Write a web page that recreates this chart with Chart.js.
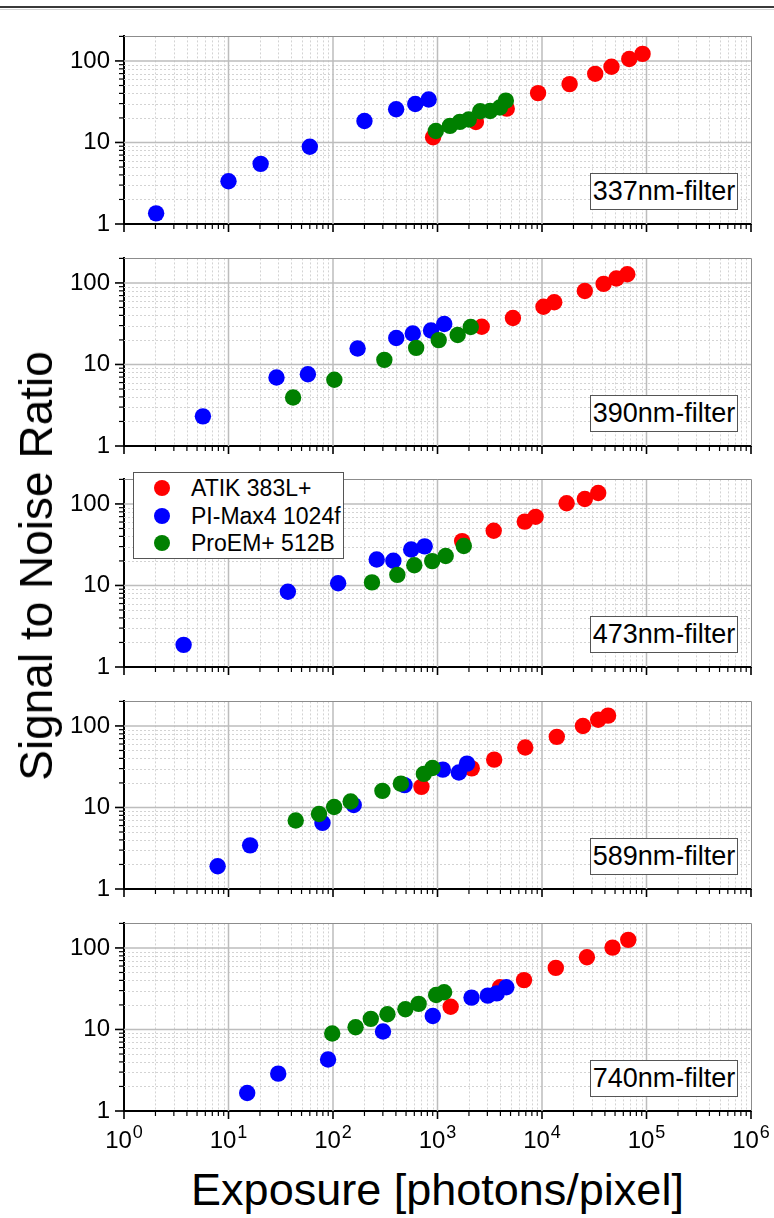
<!DOCTYPE html>
<html><head><meta charset="utf-8">
<script src="https://cdn.jsdelivr.net/npm/chart.js@4.4.1/dist/chart.umd.min.js"></script>
<style>
html,body{margin:0;padding:0;background:#fff;}
body{width:774px;height:1218px;position:relative;overflow:hidden;font-family:"Liberation Sans",Arial,sans-serif;color:#000;}
canvas{position:absolute;left:0;}
.line{position:absolute;left:0;width:774px;}
.lbl{position:absolute;box-sizing:border-box;border:1px solid #555;background:#fff;font-size:27px;line-height:35px;text-align:center;white-space:nowrap;}
#legend{position:absolute;left:133px;top:472px;width:211px;height:87px;box-sizing:border-box;border:1px solid #555;background:#fff;}
.li{position:absolute;left:0;height:24px;width:100%;}
.dot{position:absolute;left:20px;top:4px;width:16px;height:16px;border-radius:50%;}
.lt{position:absolute;left:57px;top:0;font-size:23px;line-height:24px;white-space:nowrap;}
.title{position:absolute;white-space:nowrap;}
</style>
</head><body>
<div class="line" style="top:6px;height:2px;background:#3a3a3a"></div>
<div class="line" style="top:9px;height:1px;background:#d4d4d4"></div>
<script>
// ---------- data ----------
const categories = ['337nm-filter', '390nm-filter', '473nm-filter', '589nm-filter', '740nm-filter'];
const seriesNames = ['ATIK 383L+', 'PI-Max4 1024f', 'ProEM+ 512B'];
const seriesColors = ['#ff0000', '#0000ff', '#008000'];
const xMajorTicks = [1, 10, 100, 1000, 10000, 100000, 1000000];
const xTickExponents = ['0', '1', '2', '3', '4', '5', '6'];
const yMajorTicks = [1, 10, 100];
const yTickLabels = ['1', '10', '100'];
const xMin = 1, xMax = 1e6, yMin = 1, yMax = 200;

// 337 nm
const atik337X = [907, 2330, 4600, 9170, 18370, 32300, 46240, 68400, 91700];
const atik337Y = [11.6, 17.8, 26, 40.3, 52, 69.5, 85, 105.6, 122];
const pimax337X = [2.03, 10, 20.3, 60, 200, 402, 613, 823];
const pimax337Y = [1.35, 3.35, 5.47, 8.85, 18.3, 25.6, 29.6, 33.6];
const proem337X = [964, 1316, 1637, 1990, 2563, 3187, 3953, 4508];
const proem337Y = [13.8, 16, 17.9, 19.1, 24.2, 24.3, 26.9, 32.6];
// 390 nm
const atik390X = [2650, 5270, 10330, 13100, 25700, 38900, 51500, 65500];
const atik390Y = [29, 37.2, 51, 58, 79.7, 97.3, 113.6, 128];
const pimax390X = [5.69, 28.8, 57.5, 172, 403, 580, 867, 1160];
const pimax390Y = [2.31, 6.93, 7.6, 15.7, 21.1, 24, 26.1, 31.3];
const proem390X = [41.5, 103, 310, 625, 1027, 1560, 2080];
const proem390Y = [3.94, 6.5, 11.4, 16, 19.9, 23, 28.8];
// 473 nm
const atik473X = [1720, 3450, 6840, 8690, 17200, 25700, 34500];
const atik473Y = [35, 47, 60.7, 69.5, 102, 115, 136];
const pimax473X = [3.72, 37, 112, 262, 378, 560, 754];
const pimax473Y = [1.87, 8.36, 10.65, 20.8, 20.1, 27.6, 30.2];
const proem473X = [236, 413, 600, 890, 1198, 1785];
const proem473Y = [10.9, 13.5, 17.7, 19.9, 23, 30.5];
// 589 nm
const atik589X = [702, 2127, 3487, 6914, 13860, 24640, 34500, 42900];
const atik589Y = [17.9, 30.2, 38.6, 54.5, 73.5, 100, 119, 134];
const pimax589X = [7.87, 16.1, 79.3, 158, 484, 1125, 1600, 1916];
const pimax589Y = [1.9, 3.43, 6.47, 10.7, 18.8, 29.1, 26.8, 34.5];
const proem589X = [44, 73.5, 102.5, 147.5, 297, 446, 741, 895];
const proem589Y = [6.92, 8.3, 10.15, 11.85, 16, 19.6, 25.8, 30.5];
// 740 nm
const atik740X = [1337, 3960, 6730, 13550, 26900, 47300, 66900];
const atik740Y = [19, 32.9, 40.3, 56.9, 76.8, 101, 125.6];
const pimax740X = [15.1, 29.9, 89.7, 301, 901, 2116, 3028, 3690, 4556];
const pimax740Y = [1.66, 2.87, 4.29, 9.46, 14.6, 24.6, 26, 27.7, 32.9];
const proem740X = [98.3, 164.5, 230, 332, 493, 660, 971, 1157];
const proem740Y = [8.93, 10.65, 13.5, 15.4, 17.7, 20.6, 26.5, 28.6];

const panelData = [
  [[atik337X, atik337Y], [pimax337X, pimax337Y], [proem337X, proem337Y]],
  [[atik390X, atik390Y], [pimax390X, pimax390Y], [proem390X, proem390Y]],
  [[atik473X, atik473Y], [pimax473X, pimax473Y], [proem473X, proem473Y]],
  [[atik589X, atik589Y], [pimax589X, pimax589Y], [proem589X, proem589Y]],
  [[atik740X, atik740Y], [pimax740X, pimax740Y], [proem740X, proem740Y]]
];

// ---------- layout ----------
const W = 774;
const plotTops = [29, 251, 472, 694, 916];
const plotH = 195, plotL = 124, plotR = 751;
const FONT = '"Liberation Sans", Arial, sans-serif';

function allTicks(majors, max) {
  const out = [];
  majors.forEach(m => { for (let k = 1; k <= 9; k++) { const v = m * k; if (v <= max * 1.0000001) out.push(v); } });
  return out;
}
const xAllTicks = allTicks(xMajorTicks, xMax);
const yAllTicks = allTicks(yMajorTicks, yMax);
function isMajor(v) { const l = Math.log10(v); return Math.abs(l - Math.round(l)) < 1e-9; }

function makePlugin(showXLabels) {
  return {
    id: 'frameGrid',
    beforeDatasetsDraw(chart) {
      const { ctx, chartArea: a } = chart;
      const xs = chart.scales.x, ys = chart.scales.y;
      ctx.save();
      ctx.lineWidth = 1; ctx.strokeStyle = '#d3d3d3'; ctx.setLineDash([2, 2]);
      ctx.beginPath();
      xs.ticks.forEach(t => { if (!isMajor(t.value) && t.value > xMin && t.value < xMax) { const p = Math.round(xs.getPixelForValue(t.value)) + 0.5; ctx.moveTo(p, a.top); ctx.lineTo(p, a.bottom); } });
      ys.ticks.forEach(t => { if (!isMajor(t.value) && t.value > yMin && t.value < yMax) { const p = Math.round(ys.getPixelForValue(t.value)) + 0.5; ctx.moveTo(a.left, p); ctx.lineTo(a.right, p); } });
      ctx.stroke();
      ctx.setLineDash([]); ctx.strokeStyle = '#bdbdbd'; ctx.lineWidth = 1.5;
      ctx.beginPath();
      xs.ticks.forEach(t => { if (isMajor(t.value) && t.value > xMin && t.value < xMax) { const p = xs.getPixelForValue(t.value); ctx.moveTo(p, a.top); ctx.lineTo(p, a.bottom); } });
      ys.ticks.forEach(t => { if (isMajor(t.value) && t.value > yMin && t.value < yMax) { const p = ys.getPixelForValue(t.value); ctx.moveTo(a.left, p); ctx.lineTo(a.right, p); } });
      ctx.stroke();
      ctx.restore();
    },
    afterDraw(chart) {
      const { ctx, chartArea: a } = chart;
      const xs = chart.scales.x, ys = chart.scales.y;
      ctx.save();
      ctx.setLineDash([]);
      ctx.strokeStyle = '#8c8c8c'; ctx.lineWidth = 1;
      ctx.beginPath();
      ctx.moveTo(a.left, Math.round(a.top) + 0.5); ctx.lineTo(Math.round(a.right) + 0.5, Math.round(a.top) + 0.5);
      ctx.lineTo(Math.round(a.right) + 0.5, a.bottom);
      ctx.stroke();
      ctx.strokeStyle = '#000';
      xs.ticks.forEach(t => {
        const p = xs.getPixelForValue(t.value), mj = isMajor(t.value);
        ctx.lineWidth = mj ? 1.6 : 1.2;
        ctx.beginPath(); ctx.moveTo(p, a.bottom); ctx.lineTo(p, a.bottom + (mj ? 8 : 5)); ctx.stroke();
      });
      ys.ticks.forEach(t => {
        const p = ys.getPixelForValue(t.value), mj = isMajor(t.value);
        ctx.lineWidth = mj ? 1.6 : 1.2;
        ctx.beginPath(); ctx.moveTo(a.left, p); ctx.lineTo(a.left - (mj ? 9 : 5), p); ctx.stroke();
      });
      if (showXLabels) {
        ctx.fillStyle = '#000'; ctx.textAlign = 'left'; ctx.textBaseline = 'alphabetic';
        xMajorTicks.forEach((v, k) => {
          const p = xs.getPixelForValue(v);
          ctx.font = '24px ' + FONT; const w1 = ctx.measureText('10').width;
          ctx.font = '18px ' + FONT; const w2 = ctx.measureText(xTickExponents[k]).width;
          const s = p - (w1 + w2 + 1) / 2;
          ctx.font = '24px ' + FONT; ctx.fillText('10', s, a.bottom + 37);
          ctx.font = '18px ' + FONT; ctx.fillText(xTickExponents[k], s + w1 + 1, a.bottom + 27);
        });
      }
      ctx.restore();
    }
  };
}

categories.forEach((cat, i) => {
  const padBottom = i === 4 ? 45 : 20;
  const H = 12 + plotH + padBottom;
  const canvas = document.createElement('canvas');
  canvas.width = W; canvas.height = H;
  canvas.style.width = W + 'px'; canvas.style.height = H + 'px';
  canvas.style.top = (plotTops[i] - 12) + 'px';
  document.body.appendChild(canvas);
  const datasets = seriesNames.map((name, s) => ({
    label: name,
    data: panelData[i][s][0].map((x, k) => ({ x: x, y: panelData[i][s][1][k] })),
    backgroundColor: seriesColors[s],
    borderColor: seriesColors[s],
    pointRadius: 8.2,
    pointBorderWidth: 0,
    order: 3 - s
  }));
  new Chart(canvas, {
    type: 'scatter',
    data: { datasets },
    options: {
      responsive: false, animation: false, events: [], devicePixelRatio: 1,
      layout: { padding: { top: 12, left: 0, right: W - plotR, bottom: padBottom } },
      plugins: { legend: { display: false }, tooltip: { enabled: false } },
      scales: {
        x: {
          type: 'logarithmic', min: xMin, max: xMax,
          afterBuildTicks: s => { s.ticks = xAllTicks.map(v => ({ value: v })); },
          afterFit: s => { s.height = 0; },
          ticks: { display: false },
          grid: { display: false },
          border: { display: true, color: '#000', width: 2 }
        },
        y: {
          type: 'logarithmic', min: yMin, max: yMax,
          afterBuildTicks: s => { s.ticks = yAllTicks.map(v => ({ value: v })); },
          afterFit: s => { s.width = plotL; },
          ticks: {
            autoSkip: false, padding: 5, color: '#000',
            font: { family: FONT, size: 24 },
            callback: v => { const k = yMajorTicks.indexOf(v); return k >= 0 ? yTickLabels[k] : ''; }
          },
          grid: { display: true, drawOnChartArea: false, drawTicks: true, tickLength: 9, tickColor: 'rgba(0,0,0,0)' },
          border: { display: true, color: '#000', width: 2 }
        }
      }
    },
    plugins: [makePlugin(i === 4)]
  });
  const lb = document.createElement('div');
  lb.className = 'lbl';
  lb.textContent = cat;
  lb.style.left = '590px'; lb.style.width = '148px'; lb.style.height = '37px';
  lb.style.top = (plotTops[i] + plotH - 14 - 37) + 'px';
  document.body.appendChild(lb);
});

// legend (panel 3)
const legend = document.createElement('div');
legend.id = 'legend';
const rowCenters = [15.3, 43, 70.3];
seriesNames.forEach((n, s) => {
  const row = document.createElement('div');
  row.className = 'li';
  row.style.top = (rowCenters[s] - 12) + 'px';
  row.innerHTML = '<div class="dot" style="background:' + seriesColors[s] + '"></div><div class="lt">' + n + '</div>';
  legend.appendChild(row);
});
document.body.appendChild(legend);

// axis titles
const yt = document.createElement('div');
yt.className = 'title';
yt.textContent = 'Signal to Noise Ratio';
yt.style.fontSize = '46px'; yt.style.lineHeight = '46px';
yt.style.left = '36px'; yt.style.top = '566px';
yt.style.transform = 'translate(-50%,-50%) rotate(-90deg)';
document.body.appendChild(yt);

const xt = document.createElement('div');
xt.className = 'title';
xt.textContent = 'Exposure [photons/pixel]';
xt.style.fontSize = '45px'; xt.style.lineHeight = '45px';
xt.style.left = ((plotL + plotR) / 2) + 'px'; xt.style.top = '1167px';
xt.style.transform = 'translateX(-50%)';
document.body.appendChild(xt);
</script>
</body></html>
